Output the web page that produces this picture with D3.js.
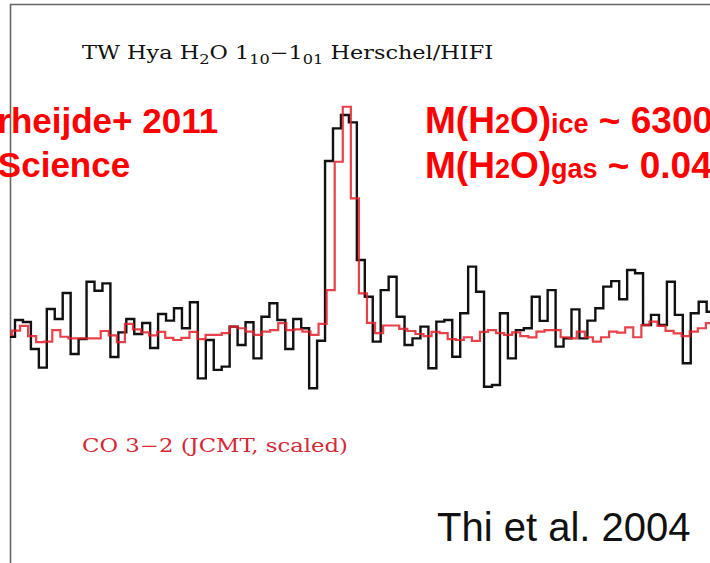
<!DOCTYPE html>
<html>
<head>
<meta charset="utf-8">
<script src="https://cdn.jsdelivr.net/npm/d3@7"></script>
<style>
  html, body { margin: 0; padding: 0; background: #fff; }
  svg { display: block; }
</style>
</head>
<body>
<div id="chart"></div>
<script>
// H2O 1(10)-1(01) spectrum (black) and scaled CO 3-2 (red), one value per channel
var h2oStart = -1;      // first channel position, in channel units
var h2oStep = 1;
var h2oFlux = [
  0.1, 7.4, 6.5, -5.2, -13.3, 12.2, 7.8, 19.1, -7.4, -0.9,
  24.0, 20.1, 23.3, -8.7, 2.0, 7.8, 1.3, 6.1, -4.8, 10.0,
  7.1, 12.5, 3.8, 15.1, -18.0, -1.3, -14.3, -12.9, 4.5, -3.5,
  6.4, -9.3, 8.8, 14.7, 7.4, -5.2, 7.8, 3.8, -22.3, -1.6,
  76.5, 90.7, 96.5, 93.3, 33.5, 17.5, -2.0, 20.4, 26.2, 8.8,
  -3.5, -0.6, 4.5, -13.6, 6.7, 7.4, -8.6, 10.3, 30.6, 19.7,
  -21.6, -20.9, 10.3, -9.3, 3.0, 3.8, 17.5, 7.0, 20.4, -4.2,
  -0.6, 12.0, -0.6, 7.1, 12.5, 21.9, 24.3, 16.4, 29.1, 27.7,
  5.2, 9.6, 5.2, 24.0, 9.6, -11.4, 10.3, 15.3, 11.0
];

var coStart = -1.40;
var coStep = 1.015;
var coFlux = [
  0.9, 2.8, 4.8, 0.4, -2.2, -2.0, 3.0, 0.1, -0.6, -0.6,
  -0.6, -0.6, 2.6, 0.7, -2.2, 5.7, 3.3, 2.0, 0.7, 2.2,
  -0.4, -1.3, -0.4, 2.2, -0.9, 0.9, 0.9, 1.7, 4.5, 3.8,
  2.3, 0.9, 2.3, 3.0, 6.0, 3.0, 3.3, 2.3, 0.9, 5.7,
  20.4, 76.2, 100.1, 60.3, 19.0, 6.1, 1.7, 5.0, 5.0, 3.5,
  2.6, 1.3, 0.4, 2.2, 1.7, -0.9, -1.3, -0.1, -1.7, 2.2,
  3.0, 1.7, 0.9, 2.0, 0.4, -0.2, 2.3, 3.0, 3.0, -0.1,
  -0.6, 2.3, -0.1, -2.0, -0.1, 2.3, 1.9, 4.2, -0.1, 5.2,
  6.7, 4.8, 2.7, 1.6, 0.4, 2.3, 3.8, 6.0
];

var width = 710, height = 563;
var frameLeft = 10, frameTop = 4;

var svg = d3.select('#chart').append('svg')
    .attr('width', width)
    .attr('height', height);

var x = d3.scaleLinear()
    .domain([0, 88])
    .range([15, 15 + 7.95 * 88]);

var y = d3.scaleLinear()
    .domain([0, 100])
    .range([337, 107]);

svg.append('clipPath')
    .attr('id', 'plot-clip')
  .append('rect')
    .attr('x', frameLeft)
    .attr('y', frameTop)
    .attr('width', width - frameLeft)
    .attr('height', height - frameTop);

// frame (only top and left edges fit in the crop)
svg.append('path')
    .attr('d', 'M' + (frameLeft + 0.5) + ',' + height + 'V' + (frameTop + 0.5) + 'H' + width)
    .style('fill', 'none')
    .style('stroke', '#666')
    .style('stroke-width', 1.6);

// turn a channel list into step points, closing the last channel
var toSteps = function (values, start, step) {
  var pts = values.map(function (v, i) { return [start + i * step, v]; });
  pts.push([start + values.length * step, values[values.length - 1]]);
  return pts;
};

var line = d3.line()
    .x(function (d) { return x(d[0]); })
    .y(function (d) { return y(d[1]); })
    .curve(d3.curveStepAfter);

var plot = svg.append('g')
    .attr('clip-path', 'url(#plot-clip)');

plot.append('path')
    .datum(toSteps(h2oFlux, h2oStart, h2oStep))
    .attr('d', line)
    .style('fill', 'none')
    .style('stroke', '#111')
    .style('stroke-width', 2.4)
    .style('stroke-linejoin', 'miter');

plot.append('path')
    .datum(toSteps(coFlux, coStart, coStep))
    .attr('d', line)
    .style('fill', 'none')
    .style('stroke', '#e3202c')
    .style('stroke-opacity', 0.85)
    .style('stroke-width', 2.2);

// plot labels: wide serif face, stretched like the plotting-package font
var labelFont = '"DejaVu Serif", "Liberation Serif", serif';

var title = svg.append('text')
    .attr('x', 82)
    .attr('y', 59)
    .attr('textLength', 411)
    .attr('lengthAdjust', 'spacingAndGlyphs')
    .style('font-family', labelFont)
    .style('font-size', '18px')
    .style('fill', '#111');
title.append('tspan').text('TW Hya H');
title.append('tspan').attr('dy', 5).style('font-size', '13px').text('2');
title.append('tspan').attr('dy', -5).text('O 1');
title.append('tspan').attr('dy', 5).style('font-size', '13px').text('10');
title.append('tspan').attr('dy', -5).text('\u22121');
title.append('tspan').attr('dy', 5).style('font-size', '13px').text('01');
title.append('tspan').attr('dy', -5).text(' Herschel/HIFI');

svg.append('text')
    .attr('x', 82)
    .attr('y', 452)
    .attr('textLength', 266)
    .attr('lengthAdjust', 'spacingAndGlyphs')
    .style('font-family', labelFont)
    .style('font-size', '18px')
    .style('fill', '#d42a36')
    .text('CO 3\u22122 (JCMT, scaled)');

svg.append('text')
    .attr('x', 437)
    .attr('y', 541)
    .style('font', '40px "Liberation Sans", Arial, sans-serif')
    .style('fill', '#111')
    .text('Thi et al. 2004');

// slide annotations in red
var note = svg.append('g')
    .style('font-family', '"Liberation Sans", Arial, sans-serif')
    .style('font-weight', 'bold')
    .style('fill', '#ff0000');

note.append('text')
    .attr('x', 64).attr('y', 133)
    .attr('text-anchor', 'middle')
    .style('font-size', '35px')
    .text('Hogerheijde+ 2011');
note.append('text')
    .attr('x', 64).attr('y', 177)
    .attr('text-anchor', 'middle')
    .style('font-size', '35px')
    .text('Science');

var massLine = function (yPos, phase, value) {
  var t = note.append('text')
      .attr('x', 425).attr('y', yPos)
      .style('font-size', '37px');
  t.append('tspan').text('M(H');
  t.append('tspan').style('font-size', '27px').text('2');
  t.append('tspan').text('O)');
  t.append('tspan').style('font-size', '27px').text(phase);
  t.append('tspan').text(' ~ ' + value);
};
massLine(133, 'ice', '6300');
massLine(178, 'gas', '0.04');
</script>
</body>
</html>
